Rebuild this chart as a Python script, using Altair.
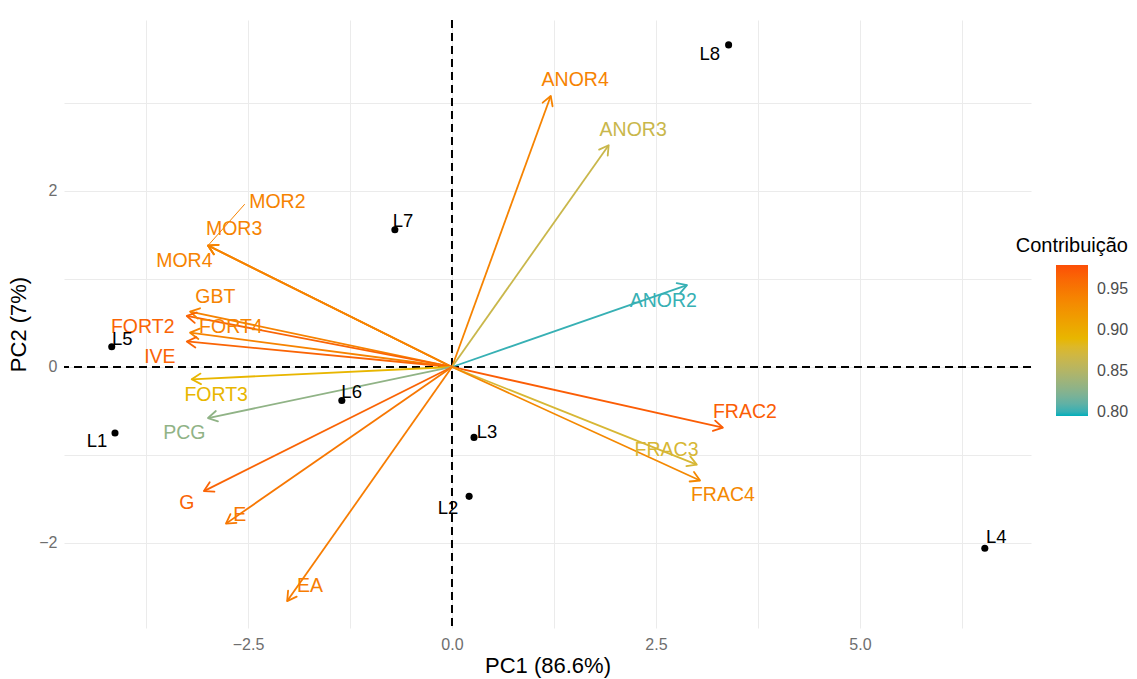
import math
import altair as alt
import pandas as pd

# ---- variables (loadings drawn as arrows from the origin) ----
var_names = ["ANOR4", "ANOR3", "ANOR2", "FRAC2", "FRAC3", "FRAC4",
             "MOR2", "MOR3", "MOR4", "GBT", "FORT2", "FORT4", "IVE",
             "FORT3", "PCG", "G", "E", "EA"]
var_pc1 = [1.21, 1.92, 2.88, 3.32, 3.00, 3.04,
           -2.99, -2.99, -2.99, -3.21, -3.25, -3.21, -3.25,
           -3.19, -2.99, -3.04, -2.77, -2.02]
var_pc2 = [3.08, 2.52, 0.93, -0.69, -1.11, -1.29,
           1.38, 1.38, 1.38, 0.63, 0.58, 0.39, 0.29,
           -0.14, -0.58, -1.41, -1.78, -2.66]
var_contrib = [0.940, 0.865, 0.800, 0.970, 0.875, 0.935,
               0.940, 0.940, 0.940, 0.940, 0.965, 0.940, 0.965,
               0.890, 0.830, 0.965, 0.950, 0.945]
# repelled label anchors
var_lab_x = [1.51, 2.22, 2.59, 3.59, 2.63, 3.32,
             -2.14, -2.67, -3.28, -2.90, -3.79, -2.71, -3.58,
             -2.89, -3.28, -3.25, -2.60, -1.74]
var_lab_y = [3.26, 2.69, 0.75, -0.51, -0.94, -1.46,
             1.87, 1.57, 1.21, 0.80, 0.45, 0.45, 0.11,
             -0.32, -0.75, -1.54, -1.68, -2.49]

# leader segment for the MOR2 label
seg_name = ["MOR2"]
seg_x = [-2.54]
seg_y = [1.85]

# ---- individuals ----
ind_names = ["L1", "L2", "L3", "L4", "L5", "L6", "L7", "L8"]
ind_pc1 = [-4.13, 0.21, 0.27, 6.53, -4.17, -1.35, -0.70, 3.39]
ind_pc2 = [-0.75, -1.47, -0.80, -2.06, 0.23, -0.38, 1.56, 3.66]
ind_lab_x = [-4.35, -0.05, 0.43, 6.67, -4.04, -1.23, -0.60, 3.16]
ind_lab_y = [-0.84, -1.60, -0.74, -1.93, 0.32, -0.28, 1.66, 3.56]

# ---- layout ----
W, H = 967, 608
X_DOM = [-4.755, 7.096]
Y_DOM = [-2.966, 3.943]
FONT = "Liberation Sans"

sx = W / (X_DOM[1] - X_DOM[0])
sy = H / (Y_DOM[1] - Y_DOM[0])

vars_df = pd.DataFrame({
    "var": var_names, "pc1": var_pc1, "pc2": var_pc2,
    "contrib": var_contrib, "lab_x": var_lab_x, "lab_y": var_lab_y,
})
vars_df["origin"] = 0.0
# screen-space heading of each arrow (degrees, clockwise)
vars_df["heading"] = [
    math.degrees(math.atan2(-b * sy, a * sx)) % 360 for a, b in zip(var_pc1, var_pc2)
]

seg_df = pd.DataFrame({"var": seg_name, "sx": seg_x, "sy": seg_y})
seg_df = seg_df.merge(vars_df[["var", "pc1", "pc2", "contrib"]], on="var")

ind_df = pd.DataFrame({"ind": ind_names, "pc1": ind_pc1, "pc2": ind_pc2,
                       "lab_x": ind_lab_x, "lab_y": ind_lab_y})
zero_df = pd.DataFrame({"zero": [0.0]})

xs = alt.Scale(domain=X_DOM, nice=False, zero=False)
ys = alt.Scale(domain=Y_DOM, nice=False, zero=False)

x_axis = alt.Axis(
    values=[-3.75, -2.5, -1.25, 0, 1.25, 2.5, 3.75, 5, 6.25],
    labelExpr="abs(datum.value % 2.5) < 0.001 ? replace(format(datum.value, '.1f'), '-', '\u2212') : ''",
    grid=True, gridColor="#EBEBEB", gridWidth=1, ticks=False, domain=False,
    labelFont=FONT, labelFontSize=16, labelColor="#6e6e6e", labelPadding=8,
    title="PC1 (86.6%)", titleFont=FONT, titleFontSize=22, titleFontWeight="normal",
    titleColor="black", titlePadding=3,
)
y_axis = alt.Axis(
    values=[-2, -1, 0, 1, 2, 3],
    labelExpr="abs(datum.value % 2) < 0.001 ? replace(format(datum.value, 'd'), '-', '\u2212') : ''",
    grid=True, gridColor="#EBEBEB", gridWidth=1, ticks=False, domain=False,
    labelFont=FONT, labelFontSize=16, labelColor="#6e6e6e", labelPadding=7,
    title="PC2 (7%)", titleFont=FONT, titleFontSize=22, titleFontWeight="normal",
    titleColor="black", titlePadding=8,
)

color_scale = alt.Scale(domain=[0.795, 0.8875, 0.98],
                        range=["#00AFBB", "#E7B800", "#FC4E07"],
                        interpolate="lab")

color_legend = alt.Legend(
    type="gradient",
    title="Contribuição", values=[0.80, 0.85, 0.90, 0.95], format=".2f",
    orient="none", legendX=952, legendY=216, direction="vertical",
    gradientLength=151, gradientThickness=32, gradientStrokeWidth=0,
    titleFont=FONT, titleFontSize=20, titleFontWeight="normal", titleColor="black",
    titleAnchor="end", titlePadding=9,
    labelFont=FONT, labelFontSize=16, labelColor="#4d4d4d", labelOffset=9,
)

# shared colour scale; only the text layer carries the legend
color_plain = alt.Color("contrib:Q", scale=color_scale, legend=None)
color_keyed = alt.Color("contrib:Q", scale=color_scale, legend=color_legend)


def xq(field):
    return alt.X(field, type="quantitative", scale=xs, axis=x_axis)


def yq(field):
    return alt.Y(field, type="quantitative", scale=ys, axis=y_axis)


# dashed reference lines through the origin
vline = alt.Chart(zero_df).mark_rule(color="black", strokeWidth=2, strokeDash=[8, 5]).encode(
    x=xq("zero"))
hline = alt.Chart(zero_df).mark_rule(color="black", strokeWidth=2, strokeDash=[8, 5]).encode(
    y=yq("zero"))

arrows = alt.Chart(vars_df).mark_rule(strokeWidth=1.8).encode(
    x=xq("origin"), y=yq("origin"), x2="pc1:Q", y2="pc2:Q", color=color_plain)

CHEVRON = "M -1 -0.58 L 0 0 L -1 0.58"
heads = alt.Chart(vars_df).mark_point(
    shape=CHEVRON, filled=False, strokeWidth=1.8, size=330, opacity=1,
    strokeCap="round", strokeJoin="round",
).encode(
    x=xq("pc1"), y=yq("pc2"),
    angle=alt.Angle("heading:Q", scale=None), color=color_plain)

leaders = alt.Chart(seg_df).mark_rule(strokeWidth=1).encode(
    x=xq("pc1"), y=yq("pc2"), x2="sx:Q", y2="sy:Q", color=color_plain)

var_labels = alt.Chart(vars_df).mark_text(font=FONT, fontSize=19.5).encode(
    x=xq("lab_x"), y=yq("lab_y"), text="var:N", color=color_keyed)

points = alt.Chart(ind_df).mark_point(filled=True, color="black", size=50, opacity=1).encode(
    x=xq("pc1"), y=yq("pc2"))

ind_labels = alt.Chart(ind_df).mark_text(font=FONT, fontSize=18.5, color="black").encode(
    x=xq("lab_x"), y=yq("lab_y"), text="ind:N")

chart = alt.layer(
    vline, hline, leaders, arrows, heads, var_labels, points, ind_labels
).resolve_legend(
    color="independent"
).properties(
    width=W, height=H,
    autosize=alt.AutoSizeParams(type="none"),
    padding={"left": 64, "top": 20, "right": 106, "bottom": 51},
).configure_view(stroke=None)

chart.save("out.html", embed_options={"renderer": "svg", "actions": False})
